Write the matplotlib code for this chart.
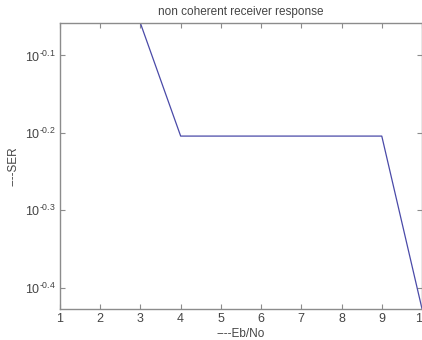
import matplotlib
matplotlib.use("Agg")
import matplotlib.pyplot as plt
from matplotlib.ticker import FixedLocator, FixedFormatter, NullLocator

plt.rcParams['font.family'] = ['Liberation Sans', 'DejaVu Sans']
plt.rcParams['mathtext.fontset'] = 'custom'
plt.rcParams['mathtext.rm'] = 'Liberation Sans'
plt.rcParams['mathtext.it'] = 'Liberation Sans'

# Eb/No vs symbol error rate
EbNo = [1, 2, 3, 4, 5, 6, 7, 8, 9, 10]
SER = [0.874, 0.874, 0.874, 0.625, 0.625, 0.625, 0.625, 0.625, 0.625, 0.374]

y_ticks = [10 ** -0.4, 10 ** -0.3, 10 ** -0.2, 10 ** -0.1]
y_tick_labels = [r'$10^{\text{-0.4}}$', r'$10^{\text{-0.3}}$', r'$10^{\text{-0.2}}$', r'$10^{\text{-0.1}}$']

spine_col = '#8c8c8c'
text_col = '#444444'

fig = plt.figure(figsize=(4.22, 3.40), dpi=100)
ax = fig.add_axes([60 / 422, 1 - 308.7 / 340, 362 / 422, (308.7 - 23.3) / 340])

ax.plot(EbNo, SER, color='#4a4aa8', linewidth=0.9)

ax.set_yscale('log')
ax.set_xlim(1, 10)
ax.set_ylim(10 ** -0.427, 10 ** -0.0585)
ax.set_xticks(range(1, 11))
ax.yaxis.set_major_locator(FixedLocator(y_ticks))
ax.yaxis.set_major_formatter(FixedFormatter(y_tick_labels))
ax.yaxis.set_minor_locator(NullLocator())

for s in ax.spines.values():
    s.set_color(spine_col)
    s.set_linewidth(1.0)
ax.tick_params(direction='in', length=3.5, width=0.8, color=spine_col,
               labelcolor=text_col, labelsize=9, top=True, right=True, pad=3)

ax.set_title('non coherent receiver response', fontsize=8.5, color=text_col, pad=6)
ax.set_xlabel('----Eb/No', fontsize=8.5, color=text_col, labelpad=2)
ax.set_ylabel('----SER', fontsize=8.5, color=text_col, labelpad=4)

fig.savefig('out.png', dpi=100)
